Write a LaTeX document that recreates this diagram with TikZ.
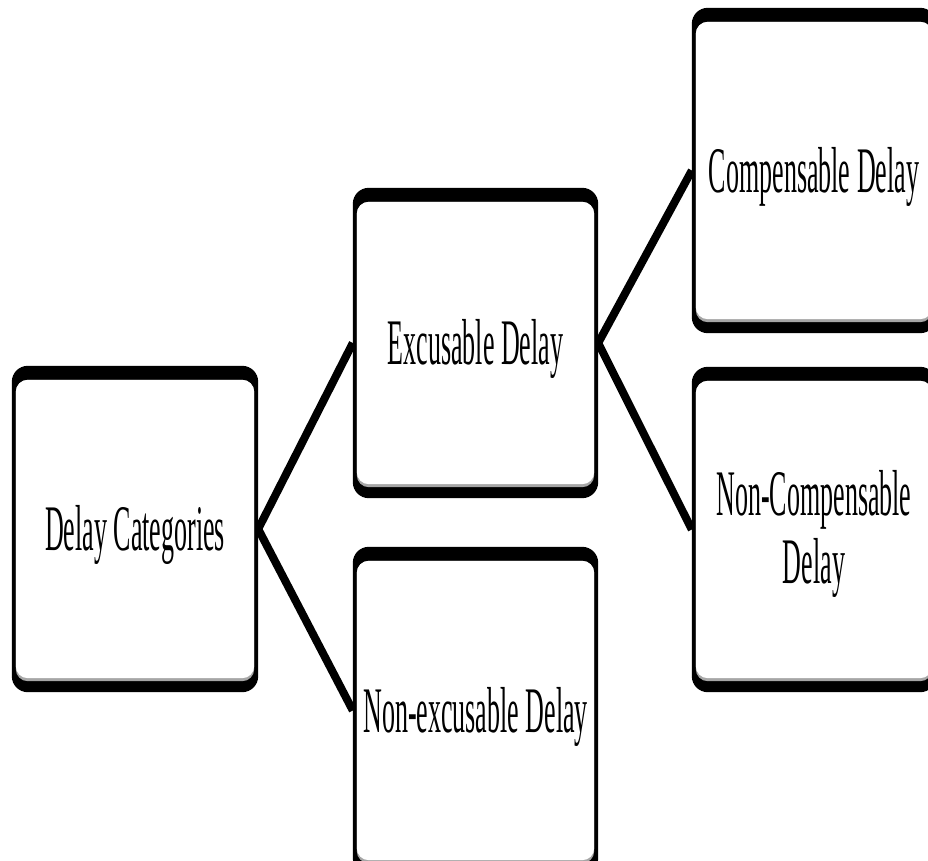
\documentclass[tikz,border=0pt]{standalone}
\usepackage{fontspec}
\setmainfont{Liberation Serif}
\newcommand\dlytext[1]{\fontsize{65}{68}\selectfont\scalebox{0.4}[1]{\begin{tabular}{@{}c@{}}#1\end{tabular}}}
\begin{document}
\begin{tikzpicture}[x=1pt,y=-1pt,
  frame/.style={rectangle, inner sep=0pt, draw=none},
  lbl/.style={inner sep=0pt, anchor=north},
  link/.style={line width=8pt, black},
  ]
\useasboundingbox (0,0) rectangle (928,861);
\clip (0,0) rectangle (928,861);
% frame nodes
\node[frame, minimum width=246pt, minimum height=326pt] (dc) at (135,529) {};
\node[frame, minimum width=245pt, minimum height=310pt] (ex) at (475.5,343) {};
\node[frame, minimum width=245pt, minimum height=327pt] (nex) at (475.5,710.5) {};
\node[frame, minimum width=244pt, minimum height=325pt] (comp) at (814,170.5) {};
\node[frame, minimum width=244pt, minimum height=325pt] (ncomp) at (814,529.5) {};
% connectors
\draw[link] (dc.east) -- (ex.west);
\draw[link] (dc.east) -- (nex.west);
\draw[link] (ex.east) -- (comp.west);
\draw[link] (ex.east) -- (ncomp.west);
% frames
\foreach \n in {dc,ex,nex,comp,ncomp}{
  \fill[black, rounded corners=16pt] (\n.north west) rectangle (\n.south east);
  \fill[black!35, rounded corners=12pt] ([xshift=4pt,yshift=-14pt]\n.north west) rectangle ([xshift=-4pt,yshift=11pt]\n.south east);
  \fill[white, rounded corners=12pt] ([xshift=4pt,yshift=-14pt]\n.north west) rectangle ([xshift=-4pt,yshift=14pt]\n.south east);
}
% labels
\node[lbl] (dcl) at ([yshift=26pt]dc.center) {\dlytext{Delay Categories}};
\node[lbl] (exl) at ([yshift=26pt]ex.center) {\dlytext{Excusable Delay}};
\node[lbl] (nexl) at ([yshift=26pt]nex.center) {\dlytext{Non-excusable Delay}};
\node[lbl] (compl) at ([yshift=26pt]comp.center) {\dlytext{Compensable Delay}};
\node[lbl] (ncompl) at ([yshift=62pt]ncomp.center) {\dlytext{Non-Compensable\\Delay}};
\end{tikzpicture}
\end{document}
